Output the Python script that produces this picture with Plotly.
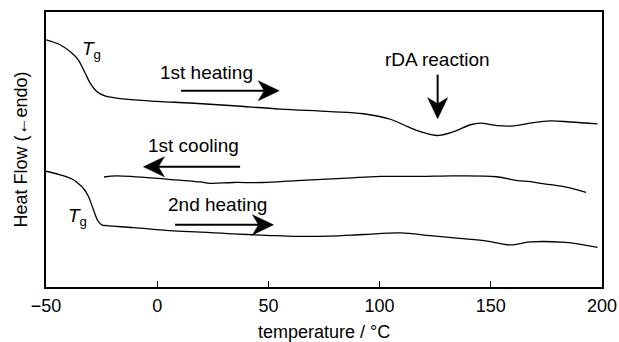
import math
import plotly.graph_objects as go

# DSC traces: temperature (°C) and heat flow (arbitrary units, offset per scan)
heat1_temp = [-50, -43.7, -38.4, -35.5, -32.4, -30.2, -27.2, -23.5, -15.2, -0.2, 14.8, 34.2,
              55.3, 77.8, 92.7, 104.8, 112.3, 118.3, 125.8, 133.3, 140.8, 145.3, 152.8,
              160.3, 167.8, 176.8, 185.8, 198.0]
heat1_flow = [89.9, 88.1, 85.1, 82.6, 77.8, 74.2, 71.1, 69.5, 68.4, 67.5, 66.9, 65.9,
              64.7, 63.8, 63.0, 61.0, 58.4, 56.5, 55.1, 56.5, 59.0, 59.6, 58.7,
              58.6, 59.6, 60.4, 60.0, 59.3]

cool1_temp = [-23.9, -18.2, 4.3, 19.3, 23.8, 34.2, 47.7, 62.8, 85.3, 100.3, 118.3, 132.8,
              152.5, 161.4, 167.8, 173.4, 182.8, 188.1, 192.8]
cool1_flow = [40.0, 40.4, 39.2, 38.2, 37.7, 38.0, 38.0, 38.7, 39.6, 40.2, 40.2, 40.4,
              40.1, 38.8, 38.3, 37.6, 36.5, 35.5, 34.4]

heat2_temp = [-50, -43.7, -37.7, -34.7, -33.2, -31.0, -29.3, -27.9, -26.6, -24.9, -22.7,
              -10.7, 7.3, 23.8, 34.2, 49.3, 62.8, 77.8, 92.8, 109.3, 122.8, 135.9, 148.3,
              154.3, 158.8, 163.3, 167.8, 183.6, 190.3, 198.0]
heat2_flow = [42.1, 40.8, 39.0, 37.1, 35.9, 33.1, 29.5, 26.4, 24.0, 22.6, 22.3,
              21.6, 20.4, 19.8, 19.3, 18.8, 18.4, 18.5, 19.1, 19.7, 18.7, 17.7, 16.7,
              15.8, 15.3, 15.8, 16.4, 16.2, 15.5, 14.4]

x_ticks = [-50, 0, 50, 100, 150, 200]

FONT = "Arial"
INK = "#000000"
W, H = 619, 342
MARGIN = dict(l=46, r=17, t=12, b=55)
X_RANGE = [-50, 200]
Y_RANGE = [0, 100]

# pixels per data unit, used to size arrowheads in screen space
PX_X = (W - MARGIN["l"] - MARGIN["r"]) / (X_RANGE[1] - X_RANGE[0])
PX_Y = (H - MARGIN["t"] - MARGIN["b"]) / (Y_RANGE[1] - Y_RANGE[0])

fig = go.Figure()
for t, f in [(heat1_temp, heat1_flow), (cool1_temp, cool1_flow), (heat2_temp, heat2_flow)]:
    fig.add_trace(go.Scatter(x=t, y=f, mode="lines", line=dict(color=INK, width=1.3),
                             line_shape="spline"))

# text labels
labels = [
    ("1st heating", 22.0, 77.9),
    ("rDA reaction", 126.0, 82.6),
    ("1st cooling", 16.2, 51.3),
    ("2nd heating", 27.0, 29.9),
    ("<i>T</i><sub>g</sub>", -29.7, 86.3),
    ("<i>T</i><sub>g</sub>", -36.0, 25.5),
]
for text, x, y in labels:
    fig.add_annotation(x=x, y=y, text=text, showarrow=False,
                       font=dict(family=FONT, size=19, color=INK))


def add_arrow(fig, x0, y0, x1, y1, head_len=21, head_w=20, notch=6, width=2):
    """Shaft from (x0, y0) to a barbed filled head whose tip is at (x1, y1)."""
    dxp = (x1 - x0) * PX_X
    dyp = (y1 - y0) * PX_Y
    n = math.hypot(dxp, dyp)
    ux, uy = dxp / n, dyp / n          # unit direction (pixels, y up)
    vx, vy = -uy, ux                   # unit normal

    def pt(along, side):
        px = -along * ux + side * vx
        py = -along * uy + side * vy
        return round(x1 + px / PX_X, 3), round(y1 + py / PX_Y, 3)

    bx1, by1 = pt(head_len, head_w / 2)
    bx2, by2 = pt(head_len, -head_w / 2)
    nx, ny = pt(head_len - notch, 0)
    fig.add_shape(type="line", x0=x0, y0=y0, x1=nx, y1=ny, xref="x", yref="y",
                  line=dict(color=INK, width=width))
    fig.add_shape(type="path", xref="x", yref="y",
                  path=f"M{x1},{y1} L{bx1},{by1} L{nx},{ny} L{bx2},{by2} Z",
                  fillcolor=INK, line=dict(color=INK, width=0.5))


# direction arrows: (tail_x, tail_y, tip_x, tip_y)
arrows = [
    (10.75, 71.35, 54.86, 71.35),
    (126.1, 77.2, 126.1, 61.2),
    (37.3, 43.7, -6.2, 43.7),
    (8.05, 22.6, 52.3, 22.6),
]
for a in arrows:
    add_arrow(fig, *a)

fig.update_layout(
    width=W, height=H,
    margin=MARGIN,
    paper_bgcolor="white", plot_bgcolor="white",
    showlegend=False,
)
fig.update_xaxes(
    range=X_RANGE, tickvals=x_ticks, ticks="inside", ticklen=6, tickwidth=1.3,
    tickcolor=INK, showline=True, linecolor=INK, linewidth=1.5, mirror=True,
    showgrid=False, zeroline=False, automargin=False, ticklabelstandoff=2,
    tickfont=dict(family=FONT, size=18, color=INK),
    title=dict(text="temperature / °C", font=dict(family=FONT, size=18, color=INK), standoff=18),
)
fig.update_yaxes(
    range=Y_RANGE, showticklabels=False,
    showline=True, linecolor=INK, linewidth=1.5, mirror=True,
    showgrid=False, zeroline=False, automargin=False,
    title=dict(text="Heat Flow (←endo)", font=dict(family=FONT, size=18, color=INK), standoff=12),
)

fig.write_html("out.html")
